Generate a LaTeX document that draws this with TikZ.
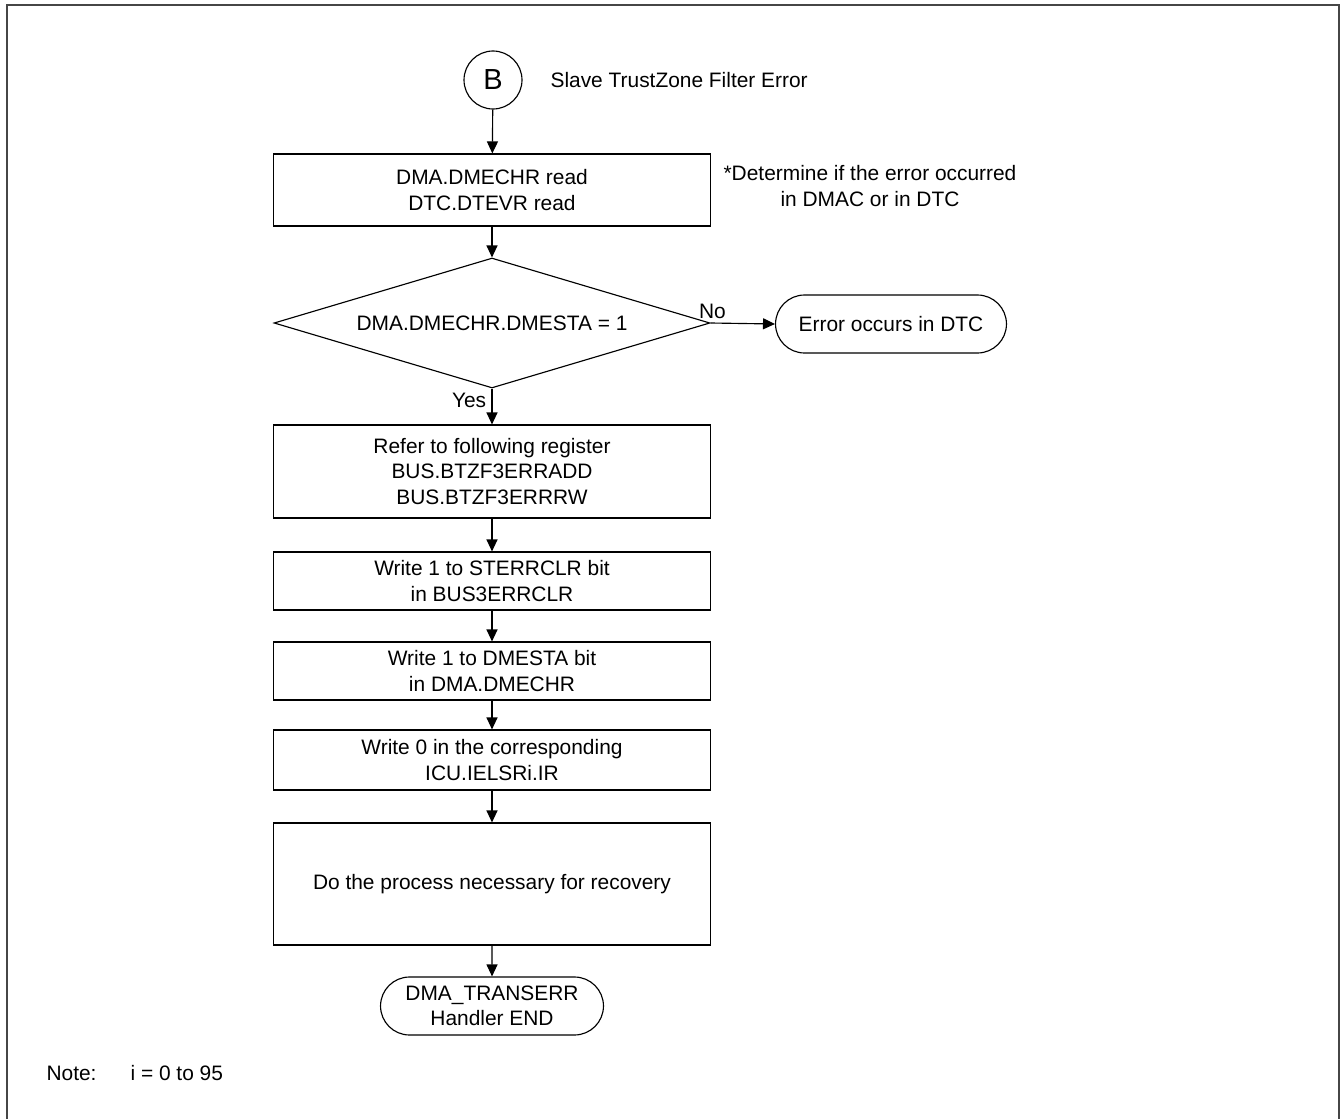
\documentclass[tikz,border=0pt]{standalone}
\usepackage{fontspec}
\setmainfont{Liberation Sans}
\usepackage{tikz}
\usetikzlibrary{shapes, arrows.meta, positioning}
\definecolor{framegray}{RGB}{70, 70, 70}

\begin{document}
\begin{tikzpicture}[
  x=0.02cm, y=-0.02cm,
  font=\fontsize{11.9}{14.4}\selectfont,
  line width=0.65pt,
  >={Triangle[length=0.24cm, width=0.22cm]},
  pbox/.style={draw, minimum width=8.74cm, align=center, inner sep=2pt},
  term/.style={draw, rounded rectangle, align=center, inner sep=2pt},
  decide/.style={draw, diamond, aspect=3.33, minimum width=8.72cm, minimum height=2.6cm, inner sep=0pt},
  conn/.style={draw, circle, minimum size=1.16cm, inner sep=0pt, font=\fontsize{16.5}{17}\selectfont}
]
  \useasboundingbox (0,0) rectangle (1343,1119);
  \draw[framegray, line width=1.1pt] (7,1119) -- (7,5) -- (1339,5) -- (1339,1119);

  \node[conn] (start) at (493,80) {B};
  \node[anchor=west, inner sep=0pt] (title) at (550,80) {Slave TrustZone Filter Error};

  \node[pbox, minimum height=1.44cm] (read) at (492,190) {DMA.DMECHR read\\DTC.DTEVR read};
  \node[align=center] (remark) at (870,186) {*Determine if the error occurred\\in DMAC or in DTC};

  \node[decide] (check) at (492,323) {DMA.DMECHR.DMESTA = 1};
  \node[term, minimum width=4.76cm, minimum height=1.16cm] (dtc) at (891,324) {Error occurs in DTC};

  \node[pbox, minimum height=1.86cm] (refer) at (492,471.5) {Refer to following register\\BUS.BTZF3ERRADD\\BUS.BTZF3ERRRW};
  \node[pbox, minimum height=1.16cm] (sterr) at (492,581) {Write 1 to STERRCLR bit\\in BUS3ERRCLR};
  \node[pbox, minimum height=1.16cm] (dmesta) at (492,671) {Write 1 to DMESTA bit\\in DMA.DMECHR};
  \node[pbox, minimum height=1.2cm] (ielsr) at (492,760) {Write 0 in the corresponding\\ICU.IELSRi.IR};
  \node[pbox, minimum height=2.44cm] (recover) at (492,884) {Do the process necessary for recovery};
  \node[term, minimum width=4.6cm, minimum height=1.16cm] (finish) at (492,1006) {DMA\_TRANSERR\\Handler END};

  \node[anchor=west, inner sep=0pt] (note) at (46,1073) {Note:};
  \node[anchor=west, inner sep=0pt] (range) at (130,1073) {i = 0 to 95};

  % connectors
  \draw[->] (start) -- (read);
  \draw[->] (read) -- (check);
  \draw[->] (check.east) -- node[above, pos=0.03, inner sep=2pt] {No} (dtc.west);
  \draw[->] (check.south) -- node[left, pos=0.33, inner sep=3pt] {Yes} (refer.north);
  \draw[->] (refer) -- (sterr);
  \draw[->] (sterr) -- (dmesta);
  \draw[->] (dmesta) -- (ielsr);
  \draw[->] (ielsr) -- (recover);
  \draw[->] (recover) -- (finish);
\end{tikzpicture}
\end{document}
